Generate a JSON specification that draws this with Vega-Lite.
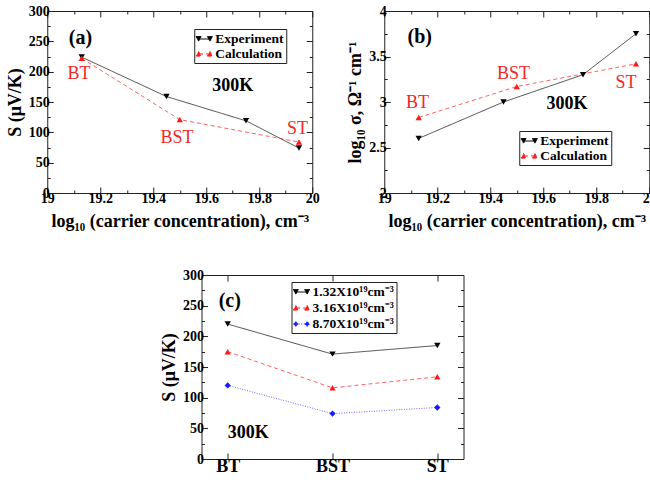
{
  "$schema": "https://vega.github.io/schema/vega-lite/v6.json",
  "padding": {"left": 5, "top": 3, "right": 0, "bottom": 0},
  "datasets": {
    "series_a": [
      {"series": "Experiment", "x": 19.13, "y": 224},
      {"series": "Experiment", "x": 19.45, "y": 159},
      {"series": "Experiment", "x": 19.75, "y": 119},
      {"series": "Experiment", "x": 19.95, "y": 74},
      {"series": "Calculation", "x": 19.13, "y": 222},
      {"series": "Calculation", "x": 19.5, "y": 121},
      {"series": "Calculation", "x": 19.95, "y": 84}
    ],
    "series_b": [
      {"series": "Experiment", "x": 19.13, "y": 2.6},
      {"series": "Experiment", "x": 19.45, "y": 3.0},
      {"series": "Experiment", "x": 19.75, "y": 3.3},
      {"series": "Experiment", "x": 19.95, "y": 3.75},
      {"series": "Calculation", "x": 19.13, "y": 2.83},
      {"series": "Calculation", "x": 19.5, "y": 3.17},
      {"series": "Calculation", "x": 19.95, "y": 3.42}
    ],
    "series_c": [
      {"series": "1.32X10¹⁹cm⁻³", "sample": "BT", "y": 220},
      {"series": "1.32X10¹⁹cm⁻³", "sample": "BST", "y": 171},
      {"series": "1.32X10¹⁹cm⁻³", "sample": "ST", "y": 185},
      {"series": "3.16X10¹⁹cm⁻³", "sample": "BT", "y": 175},
      {"series": "3.16X10¹⁹cm⁻³", "sample": "BST", "y": 116},
      {"series": "3.16X10¹⁹cm⁻³", "sample": "ST", "y": 134},
      {"series": "8.70X10¹⁹cm⁻³", "sample": "BT", "y": 120},
      {"series": "8.70X10¹⁹cm⁻³", "sample": "BST", "y": 74},
      {"series": "8.70X10¹⁹cm⁻³", "sample": "ST", "y": 84}
    ],
    "annot": [
      {"panel": "a", "role": "tag", "label": "(a)", "x": 19.125, "y": 256},
      {"panel": "a", "role": "temp", "label": "300K", "x": 19.7, "y": 177},
      {"panel": "a", "role": "sample", "label": "BT", "x": 19.12, "y": 196},
      {"panel": "a", "role": "sample", "label": "BST", "x": 19.49, "y": 90},
      {"panel": "a", "role": "sample", "label": "ST", "x": 19.944, "y": 105},
      {"panel": "b", "role": "tag", "label": "(b)", "x": 19.134, "y": 3.71},
      {"panel": "b", "role": "temp", "label": "300K", "x": 19.69, "y": 2.98},
      {"panel": "b", "role": "sample", "label": "BT", "x": 19.125, "y": 2.99},
      {"panel": "b", "role": "sample", "label": "BST", "x": 19.4875, "y": 3.31},
      {"panel": "b", "role": "sample", "label": "ST", "x": 19.9125, "y": 3.21}
    ],
    "annot_c": [
      {"role": "tag", "label": "(c)", "sample": "BT", "y": 258},
      {"role": "temp", "label": "300K", "sample": "BT", "y": 42}
    ]
  },
  "vconcat": [
    {
      "hconcat": [
        {
          "width": 265,
          "height": 182,
          "data": {"name": "series_a"},
          "layer": [
            {
              "mark": {"type": "line", "strokeWidth": 1, "opacity": 0.7},
              "encoding": {
                "x": {"field": "x", "type": "quantitative", "scale": {"domain": [19, 20], "nice": false, "zero": false},
                  "axis": {"orient": "bottom", "values": [19, 19.1, 19.2, 19.3, 19.4, 19.5, 19.6, 19.7, 19.8, 19.9, 20],
                    "labelExpr": "abs(datum.value*5-round(datum.value*5))<0.01 ? format(datum.value, '~g') : ''",
                    "tickSize": {"condition": {"test": "abs(datum.value*5-round(datum.value*5))<0.01", "value": -6}, "value": -3},
                    "labelPadding": 4, "title": "log₁₀ (carrier concentration), cm⁻³", "titlePadding": 4}},
                "y": {"field": "y", "type": "quantitative", "scale": {"domain": [0, 300], "nice": false},
                  "axis": {"orient": "left", "values": [0, 25, 50, 75, 100, 125, 150, 175, 200, 225, 250, 275, 300],
                    "labelExpr": "datum.value % 50 === 0 ? format(datum.value, '~g') : ''",
                    "tickSize": {"condition": {"test": "datum.value % 50 === 0", "value": -6}, "value": -3},
                    "labelPadding": 4, "title": "S (μV/K)", "titlePadding": 4}},
                "color": {"field": "series", "type": "nominal",
                  "scale": {"domain": ["Experiment", "Calculation"], "range": ["black", "#ff2020"]},
                  "legend": {"orient": "none", "legendX": 147, "legendY": 18, "title": null,
                    "strokeColor": "#222", "padding": 2, "rowPadding": 0, "symbolSize": 200,
                    "labelFont": "Liberation Serif", "labelFontSize": 13.5, "labelFontWeight": "bold", "labelColor": "black",
                    "labelOffset": 3, "symbolStrokeWidth": 1, "symbolOpacity": 1,
                    "encode": {"symbols": {"update": {
                      "shape": {"signal": "datum.value === 'Experiment' ? 'M-0.75,0L0.75,0M-1.15,-0.35L-0.45,-0.35L-0.8,0.3ZM0.45,-0.35L1.15,-0.35L0.8,0.3Z' : 'M-0.75,0L0.75,0M-1.15,0.3L-0.45,0.3L-0.8,-0.35ZM0.45,0.3L1.15,0.3L0.8,-0.35Z'"},
                      "fill": {"signal": "datum.value === 'Experiment' ? 'black' : '#ff1a1a'"},
                      "stroke": {"signal": "datum.value === 'Experiment' ? 'black' : '#ff1a1a'"},
                      "strokeDash": {"signal": "datum.value === 'Experiment' ? [1,0] : [3,2]"},
                      "opacity": {"value": 1}
                    }}}}},
                "strokeDash": {"field": "series", "type": "nominal",
                  "scale": {"domain": ["Experiment", "Calculation"], "range": [[1, 0], [4, 3]]}, "legend": null}
              }
            },
            {
              "transform": [{"filter": "datum.series === 'Experiment'"}],
              "mark": {"type": "point", "filled": true, "size": 40, "opacity": 1, "shape": "triangle-down", "color": "black"},
              "encoding": {
                "x": {"field": "x", "type": "quantitative", "scale": {"domain": [19, 20], "nice": false, "zero": false},
                  "axis": {"orient": "top", "values": [19, 19.1, 19.2, 19.3, 19.4, 19.5, 19.6, 19.7, 19.8, 19.9, 20], "labels": false, "title": null,
                    "tickSize": {"condition": {"test": "abs(datum.value*5-round(datum.value*5))<0.01", "value": -6}, "value": -3}}},
                "y": {"field": "y", "type": "quantitative", "scale": {"domain": [0, 300], "nice": false},
                  "axis": {"orient": "right", "values": [0, 25, 50, 75, 100, 125, 150, 175, 200, 225, 250, 275, 300], "labels": false, "title": null,
                    "tickSize": {"condition": {"test": "datum.value % 50 === 0", "value": -6}, "value": -3}}}
              }
            },
            {
              "transform": [{"filter": "datum.series === 'Calculation'"}],
              "mark": {"type": "point", "filled": true, "size": 40, "opacity": 1, "shape": "triangle-up", "color": "#ff1a1a"},
              "encoding": {
                "x": {"field": "x", "type": "quantitative", "scale": {"domain": [19, 20], "nice": false, "zero": false}, "axis": null},
                "y": {"field": "y", "type": "quantitative", "scale": {"domain": [0, 300], "nice": false}, "axis": null}
              }
            },
            {
              "data": {"name": "annot"},
              "transform": [{"filter": "datum.panel === 'a' && datum.role === 'sample'"}],
              "mark": {"type": "text", "font": "Liberation Serif", "fontSize": 18, "color": "#f02828"},
              "encoding": {
                "x": {"field": "x", "type": "quantitative", "scale": {"domain": [19, 20], "nice": false, "zero": false}, "axis": null},
                "y": {"field": "y", "type": "quantitative", "scale": {"domain": [0, 300], "nice": false}, "axis": null},
                "text": {"field": "label"}
              }
            },
            {
              "data": {"name": "annot"},
              "transform": [{"filter": "datum.panel === 'a' && datum.role === 'tag'"}],
              "mark": {"type": "text", "font": "Liberation Serif", "fontSize": 20, "fontWeight": "bold", "color": "black"},
              "encoding": {
                "x": {"field": "x", "type": "quantitative", "scale": {"domain": [19, 20], "nice": false, "zero": false}, "axis": null},
                "y": {"field": "y", "type": "quantitative", "scale": {"domain": [0, 300], "nice": false}, "axis": null},
                "text": {"field": "label"}
              }
            },
            {
              "data": {"name": "annot"},
              "transform": [{"filter": "datum.panel === 'a' && datum.role === 'temp'"}],
              "mark": {"type": "text", "font": "Liberation Serif", "fontSize": 18, "fontWeight": "bold", "color": "black"},
              "encoding": {
                "x": {"field": "x", "type": "quantitative", "scale": {"domain": [19, 20], "nice": false, "zero": false}, "axis": null},
                "y": {"field": "y", "type": "quantitative", "scale": {"domain": [0, 300], "nice": false}, "axis": null},
                "text": {"field": "label"}
              }
            }
          ],
          "resolve": {"axis": {"x": "independent", "y": "independent"}}
        },
        {
          "width": 265,
          "height": 182,
          "data": {"name": "series_b"},
          "layer": [
            {
              "mark": {"type": "line", "strokeWidth": 1, "opacity": 0.7},
              "encoding": {
                "x": {"field": "x", "type": "quantitative", "scale": {"domain": [19, 20], "nice": false, "zero": false},
                  "axis": {"orient": "bottom", "values": [19, 19.1, 19.2, 19.3, 19.4, 19.5, 19.6, 19.7, 19.8, 19.9, 20],
                    "labelExpr": "abs(datum.value*5-round(datum.value*5))<0.01 ? format(datum.value, '~g') : ''",
                    "tickSize": {"condition": {"test": "abs(datum.value*5-round(datum.value*5))<0.01", "value": -6}, "value": -3},
                    "labelPadding": 4, "title": "log₁₀ (carrier concentration), cm⁻³", "titlePadding": 4}},
                "y": {"field": "y", "type": "quantitative", "scale": {"domain": [2, 4], "nice": false, "zero": false},
                  "axis": {"orient": "left", "values": [2, 2.25, 2.5, 2.75, 3, 3.25, 3.5, 3.75, 4],
                    "labelExpr": "abs(datum.value*2-round(datum.value*2))<0.01 ? format(datum.value, '~g') : ''",
                    "tickSize": {"condition": {"test": "abs(datum.value*2-round(datum.value*2))<0.01", "value": -6}, "value": -3},
                    "labelPadding": 4, "title": "log₁₀ σ, Ω⁻¹ cm⁻¹", "titlePadding": 4}},
                "color": {"field": "series", "type": "nominal",
                  "scale": {"domain": ["Experiment", "Calculation"], "range": ["black", "#ff2020"]},
                  "legend": {"orient": "none", "legendX": 135, "legendY": 120, "title": null,
                    "strokeColor": "#222", "padding": 2, "rowPadding": 0, "symbolSize": 200,
                    "labelFont": "Liberation Serif", "labelFontSize": 13.5, "labelFontWeight": "bold", "labelColor": "black",
                    "labelOffset": 3, "symbolStrokeWidth": 1, "symbolOpacity": 1,
                    "encode": {"symbols": {"update": {
                      "shape": {"signal": "datum.value === 'Experiment' ? 'M-0.75,0L0.75,0M-1.15,-0.35L-0.45,-0.35L-0.8,0.3ZM0.45,-0.35L1.15,-0.35L0.8,0.3Z' : 'M-0.75,0L0.75,0M-1.15,0.3L-0.45,0.3L-0.8,-0.35ZM0.45,0.3L1.15,0.3L0.8,-0.35Z'"},
                      "fill": {"signal": "datum.value === 'Experiment' ? 'black' : '#ff1a1a'"},
                      "stroke": {"signal": "datum.value === 'Experiment' ? 'black' : '#ff1a1a'"},
                      "strokeDash": {"signal": "datum.value === 'Experiment' ? [1,0] : [3,2]"},
                      "opacity": {"value": 1}
                    }}}}},
                "strokeDash": {"field": "series", "type": "nominal",
                  "scale": {"domain": ["Experiment", "Calculation"], "range": [[1, 0], [4, 3]]}, "legend": null}
              }
            },
            {
              "transform": [{"filter": "datum.series === 'Experiment'"}],
              "mark": {"type": "point", "filled": true, "size": 40, "opacity": 1, "shape": "triangle-down", "color": "black"},
              "encoding": {
                "x": {"field": "x", "type": "quantitative", "scale": {"domain": [19, 20], "nice": false, "zero": false},
                  "axis": {"orient": "top", "values": [19, 19.1, 19.2, 19.3, 19.4, 19.5, 19.6, 19.7, 19.8, 19.9, 20], "labels": false, "title": null,
                    "tickSize": {"condition": {"test": "abs(datum.value*5-round(datum.value*5))<0.01", "value": -6}, "value": -3}}},
                "y": {"field": "y", "type": "quantitative", "scale": {"domain": [2, 4], "nice": false, "zero": false},
                  "axis": {"orient": "right", "values": [2, 2.25, 2.5, 2.75, 3, 3.25, 3.5, 3.75, 4], "labels": false, "title": null,
                    "tickSize": {"condition": {"test": "abs(datum.value*2-round(datum.value*2))<0.01", "value": -6}, "value": -3}}}
              }
            },
            {
              "transform": [{"filter": "datum.series === 'Calculation'"}],
              "mark": {"type": "point", "filled": true, "size": 40, "opacity": 1, "shape": "triangle-up", "color": "#ff1a1a"},
              "encoding": {
                "x": {"field": "x", "type": "quantitative", "scale": {"domain": [19, 20], "nice": false, "zero": false}, "axis": null},
                "y": {"field": "y", "type": "quantitative", "scale": {"domain": [2, 4], "nice": false, "zero": false}, "axis": null}
              }
            },
            {
              "data": {"name": "annot"},
              "transform": [{"filter": "datum.panel === 'b' && datum.role === 'sample'"}],
              "mark": {"type": "text", "font": "Liberation Serif", "fontSize": 18, "color": "#f02828"},
              "encoding": {
                "x": {"field": "x", "type": "quantitative", "scale": {"domain": [19, 20], "nice": false, "zero": false}, "axis": null},
                "y": {"field": "y", "type": "quantitative", "scale": {"domain": [2, 4], "nice": false, "zero": false}, "axis": null},
                "text": {"field": "label"}
              }
            },
            {
              "data": {"name": "annot"},
              "transform": [{"filter": "datum.panel === 'b' && datum.role === 'tag'"}],
              "mark": {"type": "text", "font": "Liberation Serif", "fontSize": 20, "fontWeight": "bold", "color": "black"},
              "encoding": {
                "x": {"field": "x", "type": "quantitative", "scale": {"domain": [19, 20], "nice": false, "zero": false}, "axis": null},
                "y": {"field": "y", "type": "quantitative", "scale": {"domain": [2, 4], "nice": false, "zero": false}, "axis": null},
                "text": {"field": "label"}
              }
            },
            {
              "data": {"name": "annot"},
              "transform": [{"filter": "datum.panel === 'b' && datum.role === 'temp'"}],
              "mark": {"type": "text", "font": "Liberation Serif", "fontSize": 18, "fontWeight": "bold", "color": "black"},
              "encoding": {
                "x": {"field": "x", "type": "quantitative", "scale": {"domain": [19, 20], "nice": false, "zero": false}, "axis": null},
                "y": {"field": "y", "type": "quantitative", "scale": {"domain": [2, 4], "nice": false, "zero": false}, "axis": null},
                "text": {"field": "label"}
              }
            }
          ],
          "resolve": {"axis": {"x": "independent", "y": "independent"}}
        }
      ],
      "spacing": 26,
      "resolve": {"scale": {"color": "independent", "strokeDash": "independent"}, "legend": {"color": "independent"}}
    },
    {
      "width": 262,
      "height": 184,
      "data": {"name": "series_c"},
      "layer": [
        {
          "mark": {"type": "line", "strokeWidth": 1, "opacity": 0.7},
          "encoding": {
            "x": {"field": "sample", "type": "ordinal", "sort": ["BT", "BST", "ST"], "scale": {"type": "point", "padding": 0.25},
              "axis": {"orient": "bottom", "labelAngle": 0, "labelFontSize": 18, "tickSize": -6, "labelPadding": 4, "title": null}},
            "y": {"field": "y", "type": "quantitative", "scale": {"domain": [0, 300], "nice": false},
              "axis": {"orient": "left", "values": [0, 25, 50, 75, 100, 125, 150, 175, 200, 225, 250, 275, 300],
                "labelExpr": "datum.value % 50 === 0 ? format(datum.value, '~g') : ''",
                "tickSize": {"condition": {"test": "datum.value % 50 === 0", "value": -6}, "value": -3},
                "labelPadding": 4, "title": "S (μV/K)", "titlePadding": 4}},
            "color": {"field": "series", "type": "nominal",
              "scale": {"domain": ["1.32X10¹⁹cm⁻³", "3.16X10¹⁹cm⁻³", "8.70X10¹⁹cm⁻³"], "range": ["black", "#ff2020", "#3030ff"]},
              "legend": {"orient": "none", "legendX": 90, "legendY": 7, "title": null,
                "strokeColor": "#222", "padding": 2, "rowPadding": 1, "symbolSize": 200,
                "labelFont": "Liberation Serif", "labelFontSize": 13.5, "labelFontWeight": "bold", "labelColor": "black",
                "labelOffset": 3, "symbolStrokeWidth": 1, "symbolOpacity": 1,
                "encode": {"symbols": {"update": {
                  "shape": {"signal": "indexof(datum.value, '1.32') === 0 ? 'M-0.75,0L0.75,0M-1.15,-0.35L-0.45,-0.35L-0.8,0.3ZM0.45,-0.35L1.15,-0.35L0.8,0.3Z' : indexof(datum.value, '3.16') === 0 ? 'M-0.75,0L0.75,0M-1.15,0.3L-0.45,0.3L-0.8,-0.35ZM0.45,0.3L1.15,0.3L0.8,-0.35Z' : 'M-0.75,0L0.75,0M-1.15,0L-0.8,-0.35L-0.45,0L-0.8,0.35ZM0.45,0L0.8,-0.35L1.15,0L0.8,0.35Z'"},
                  "fill": {"signal": "indexof(datum.value, '1.32') === 0 ? 'black' : indexof(datum.value, '3.16') === 0 ? '#ff1a1a' : '#1a1aff'"},
                  "stroke": {"signal": "indexof(datum.value, '1.32') === 0 ? 'black' : indexof(datum.value, '3.16') === 0 ? '#ff1a1a' : '#1a1aff'"},
                  "strokeDash": {"signal": "indexof(datum.value, '1.32') === 0 ? [1,0] : indexof(datum.value, '3.16') === 0 ? [3,2] : [1,1.5]"},
                  "opacity": {"value": 1}
                }}}}},
            "strokeDash": {"field": "series", "type": "nominal",
              "scale": {"domain": ["1.32X10¹⁹cm⁻³", "3.16X10¹⁹cm⁻³", "8.70X10¹⁹cm⁻³"], "range": [[1, 0], [4, 3], [1, 1.5]]}, "legend": null}
          }
        },
        {
          "transform": [{"filter": "indexof(datum.series, '1.32') === 0"}],
          "mark": {"type": "point", "filled": true, "size": 40, "opacity": 1, "shape": "triangle-down", "color": "black"},
          "encoding": {
            "x": {"field": "sample", "type": "ordinal", "sort": ["BT", "BST", "ST"], "scale": {"type": "point", "padding": 0.25},
              "axis": {"orient": "top", "labels": false, "tickSize": -6, "title": null}},
            "y": {"field": "y", "type": "quantitative", "scale": {"domain": [0, 300], "nice": false},
              "axis": {"orient": "right", "values": [0, 25, 50, 75, 100, 125, 150, 175, 200, 225, 250, 275, 300], "labels": false,
                "title": " ", "titlePadding": 20,
                "tickSize": {"condition": {"test": "datum.value % 50 === 0", "value": -6}, "value": -3}}}
          }
        },
        {
          "transform": [{"filter": "indexof(datum.series, '3.16') === 0"}],
          "mark": {"type": "point", "filled": true, "size": 40, "opacity": 1, "shape": "triangle-up", "color": "#ff1a1a"},
          "encoding": {
            "x": {"field": "sample", "type": "ordinal", "sort": ["BT", "BST", "ST"], "scale": {"type": "point", "padding": 0.25}, "axis": null},
            "y": {"field": "y", "type": "quantitative", "scale": {"domain": [0, 300], "nice": false}, "axis": null}
          }
        },
        {
          "transform": [{"filter": "indexof(datum.series, '8.70') === 0"}],
          "mark": {"type": "point", "filled": true, "size": 40, "opacity": 1, "shape": "diamond", "color": "#1a1aff"},
          "encoding": {
            "x": {"field": "sample", "type": "ordinal", "sort": ["BT", "BST", "ST"], "scale": {"type": "point", "padding": 0.25}, "axis": null},
            "y": {"field": "y", "type": "quantitative", "scale": {"domain": [0, 300], "nice": false}, "axis": null}
          }
        },
        {
          "data": {"name": "annot_c"},
          "transform": [{"filter": "datum.role === 'tag'"}],
          "mark": {"type": "text", "font": "Liberation Serif", "fontSize": 20, "fontWeight": "bold", "color": "black", "align": "left", "dx": -9},
          "encoding": {
            "x": {"field": "sample", "type": "ordinal", "sort": ["BT", "BST", "ST"], "scale": {"type": "point", "padding": 0.25}, "axis": null},
            "y": {"field": "y", "type": "quantitative", "scale": {"domain": [0, 300], "nice": false}, "axis": null},
            "text": {"field": "label"}
          }
        },
        {
          "data": {"name": "annot_c"},
          "transform": [{"filter": "datum.role === 'temp'"}],
          "mark": {"type": "text", "font": "Liberation Serif", "fontSize": 18, "fontWeight": "bold", "color": "black", "align": "left", "dx": 0},
          "encoding": {
            "x": {"field": "sample", "type": "ordinal", "sort": ["BT", "BST", "ST"], "scale": {"type": "point", "padding": 0.25}, "axis": null},
            "y": {"field": "y", "type": "quantitative", "scale": {"domain": [0, 300], "nice": false}, "axis": null},
            "text": {"field": "label"}
          }
        }
      ],
      "resolve": {"axis": {"x": "independent", "y": "independent"}}
    }
  ],
  "spacing": 36,
  "center": true,
  "resolve": {"scale": {"color": "independent", "strokeDash": "independent"}, "legend": {"color": "independent"}},
  "config": {
    "font": "Liberation Serif",
    "view": {"stroke": "#222", "strokeWidth": 1},
    "axis": {
      "labelFont": "Liberation Serif", "labelFontSize": 14, "labelFontWeight": "bold", "labelColor": "black",
      "titleFont": "Liberation Serif", "titleFontSize": 18, "titleFontWeight": "bold", "titleColor": "black",
      "grid": false, "domain": false, "tickColor": "#222", "labelFlush": false, "labelOverlap": false
    }
  }
}
